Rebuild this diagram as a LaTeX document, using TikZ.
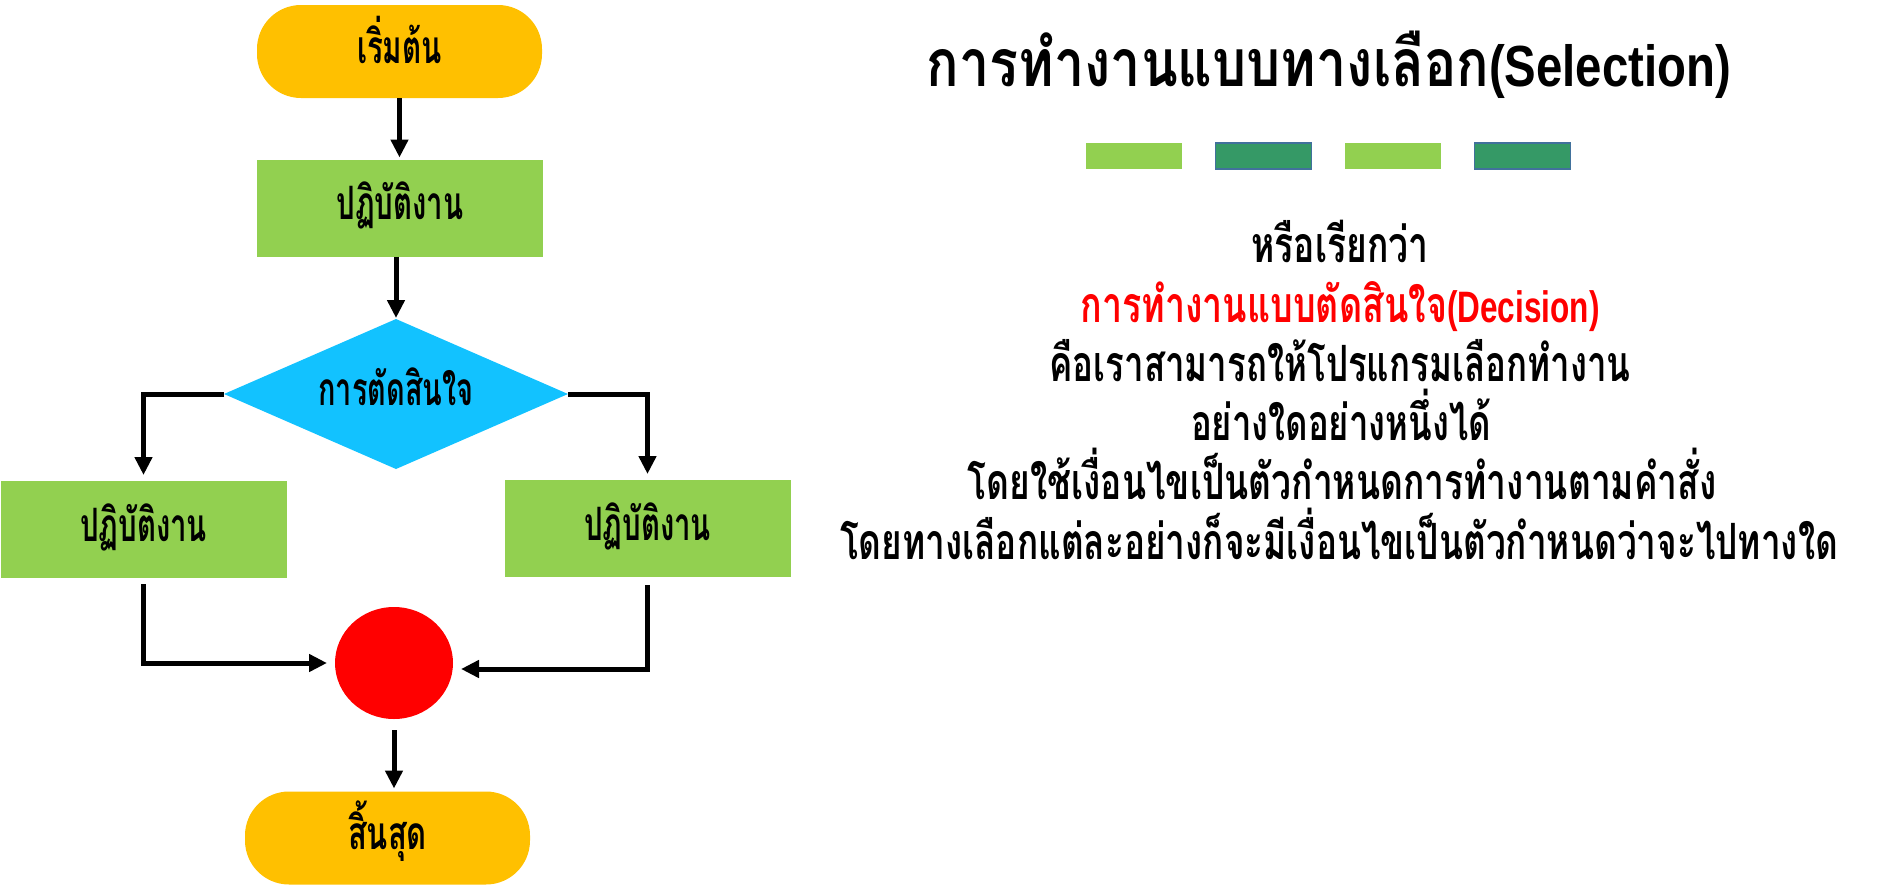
\documentclass[tikz,border=0pt]{standalone}
\usepackage{fontspec}
\usepackage{graphicx}
\usetikzlibrary{shapes.geometric,arrows.meta}
\newfontfamily\thai[Script=Thai]{Loma}
\newfontfamily\lat{Liberation Sans}
\definecolor{termc}{RGB}{255,192,0}
\definecolor{procg}{RGB}{146,208,80}
\definecolor{decb}{RGB}{18,194,255}
\definecolor{dkgreen}{RGB}{53,153,102}
\definecolor{sqborder}{RGB}{65,113,156}
\newcommand{\fitw}[2]{\resizebox{#1}{\height}{#2}}
\newcommand{\flowfont}{\thai\bfseries\fontsize{46}{50}\selectfont}
\newcommand{\bodyfont}{\thai\bfseries\fontsize{50}{56}\selectfont}
\tikzset{
  x=1pt, y=-1pt,
  basenode/.style={inner sep=0pt, outer sep=0pt},
  termbox/.style={basenode, fill=termc, rounded corners=44pt, minimum width=285pt, minimum height=93pt, font=\flowfont, text height=23pt, text depth=0pt},
  procbox/.style={basenode, fill=procg, minimum width=286pt, minimum height=97pt, font=\flowfont, text height=23pt, text depth=0pt},
  decbox/.style={basenode, minimum width=344pt, minimum height=150pt, font=\flowfont, text height=23pt, text depth=0pt},
  joinbox/.style={basenode, ellipse, fill=red, minimum width=118pt, minimum height=112pt},
  arr/.style={line width=5pt, -{Triangle[length=18pt,width=17pt]}},
  desc/.style={anchor=base, inner sep=0pt, font=\bodyfont},
  sqlight/.style={basenode, fill=procg, minimum width=96pt, minimum height=26pt},
  sqdark/.style={basenode, fill=dkgreen, draw=sqborder, line width=1.5pt, minimum width=96pt, minimum height=26pt},
}
\begin{document}
\begin{tikzpicture}
\useasboundingbox (0,0) rectangle (1896,889);
% flowchart
\fill[decb] (396,319) -- (568,394) -- (396,469) -- (224,394) -- cycle;
\node[termbox] (start) at (399.5,51.5) {\fitw{85pt}{เริ่มต้น}};
\node[procbox] (p1) at (400,208) {\fitw{127pt}{ปฏิบัติงาน}};
\node[decbox] (dec) at (396,394) {\fitw{155pt}{การตัดสินใจ}};
\node[procbox] (pL) at (143.5,529.5) {\fitw{127pt}{ปฏิบัติงาน}};
\node[procbox] (pR) at (647.5,528.5) {\fitw{127pt}{ปฏิบัติงาน}};
\node[joinbox] (join) at (394,663) {};
\node[termbox] (stop) at (387.5,838) {\fitw{79pt}{สิ้นสุด}};
\draw[arr, shorten >=2pt] (start.south) -- (start.south |- p1.north);
\draw[arr, shorten >=1pt] (p1.south -| dec.north) -- (dec.north);
\draw[arr, shorten >=6pt] (dec.west) -| (pL.north);
\draw[arr, shorten >=6pt] (dec.east) -| (pR.north);
\draw[arr, shorten >=8pt] ([yshift=-6pt]pL.south) |- (join.west);
\draw[arr, shorten >=8pt] ([yshift=-8pt]pR.south) |- ([yshift=-6pt]join.east);
\draw[arr, shorten >=3pt] ([yshift=-11pt]join.south) -- (join.south |- stop.north);
% right side
\node[anchor=base, inner sep=0pt] (title) at (1329,86) {\fitw{804pt}{{\thai\bfseries\fontsize{66}{70}\selectfont การทำงานแบบทางเลือก}{\lat\bfseries\fontsize{58}{64}\selectfont (Selection)}}};
\node[sqlight] (sq1) at (1134,156) {};
\node[sqdark] (sq2) at (1263.5,156) {};
\node[sqlight] (sq3) at (1392.5,156) {};
\node[sqdark] (sq4) at (1522.5,156) {};
\node[desc] (l1) at (1340,262) {\fitw{177pt}{หรือเรียกว่า}};
\node[desc, text=red] (l2) at (1340,322) {\fitw{519pt}{การทำงานแบบตัดสินใจ{\lat\bfseries\fontsize{44}{50}\selectfont (Decision)}}};
\node[desc] (l3) at (1340,381) {\fitw{581pt}{คือเราสามารถให้โปรแกรมเลือกทำงาน}};
\node[desc] (l4) at (1341,440) {\fitw{300pt}{อย่างใดอย่างหนึ่งได้}};
\node[desc] (l5) at (1342,499) {\fitw{749pt}{โดยใช้เงื่อนไขเป็นตัวกำหนดการทำงานตามคำสั่ง}};
\node[desc] (l6) at (1339,559) {\fitw{998pt}{โดยทางเลือกแต่ละอย่างก็จะมีเงื่อนไขเป็นตัวกำหนดว่าจะไปทางใด}};
\end{tikzpicture}
\end{document}
